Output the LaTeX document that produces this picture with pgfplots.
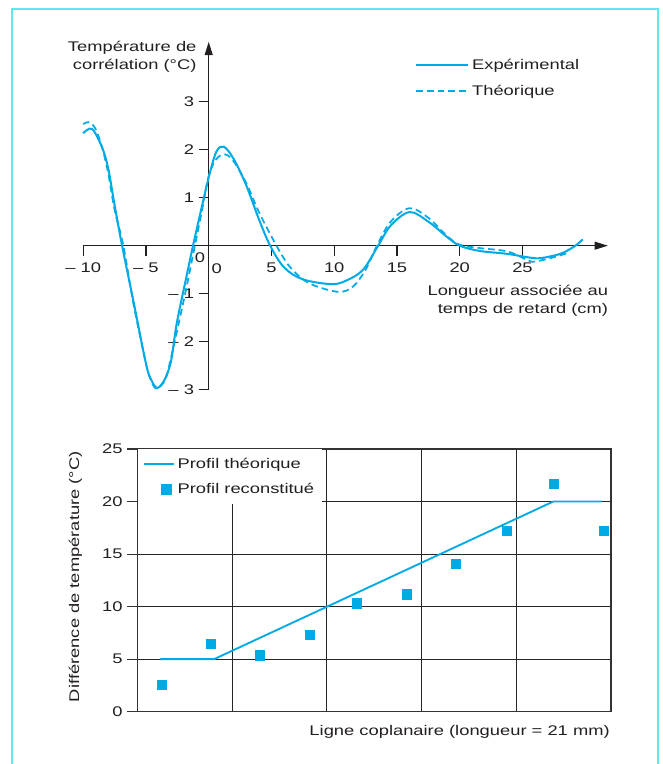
\documentclass[border=0pt]{standalone}
\usepackage{pgfplots}
\pgfplotsset{compat=1.18}
\usepackage{fontspec}
\setmainfont{Liberation Sans}[FakeStretch=1.31]
\usetikzlibrary{arrows.meta}
\definecolor{cb}{RGB}{0,170,228}
\definecolor{framec}{RGB}{95,232,240}
\definecolor{tx}{RGB}{35,31,32}
\begin{document}
\begin{tikzpicture}[font=\fontsize{10.5}{13}\selectfont]
\path[use as bounding box] (0pt,0pt) rectangle (497.25pt,573pt);
\draw[framec, line width=1.2pt] (9pt,0pt) -- (9pt,566.25pt) -- (493.5pt,566.25pt) -- (493.5pt,0pt);

\begin{axis}[
  at={(156.525pt,388.725pt)}, anchor=origin,
  scale only axis, width=393.5pt, height=261pt,
  xmin=-10, xmax=31.8, ymin=-3, ymax=4.24,
  axis lines=middle,
  axis line style={line width=0.9pt, tx, -{Triangle[length=10pt,width=6pt]}},
  tick align=outside, major tick length=7.5pt,
  tick style={line width=0.9pt, tx},
  xtick={-10,-5,5,10,15,20,25},
  xticklabels={– 10,– 5,5,10,15,20,25},
  xticklabel style={yshift=-2pt},
  ytick={-3,-2,-1,1,2,3},
  yticklabels={– 3,– 2,– 1,1,2,3},
  ticklabel style={font=\fontsize{10.5}{13}\selectfont, text=tx},
  clip=false,
  legend style={draw=none, fill=none, at={(axis cs:16.45,3.95)}, anchor=north west,
    inner sep=0pt, row sep=6.5pt, font=\fontsize{10.5}{13}\selectfont, text=tx},
  legend cell align=left,
  legend image code/.code={\draw[#1] (0pt,0pt) -- (39pt,0pt);},
]
\addplot[cb, line width=1.5pt, smooth, tension=0.55] coordinates {
(-10,2.34) (-9.3,2.43) (-8.5,2.05) (-8,1.6) (-7.5,0.85) (-6.9,0.0) (-6,-1.15)
(-5,-2.45) (-4.6,-2.78) (-4.1,-2.96) (-3.5,-2.78) (-3.0,-2.4) (-2.55,-1.62) (-1.8,-0.68) (-1.25,0.0)
(-0.6,0.75) (0,1.42) (0.6,1.95)
(1.2,2.06) (2,1.8) (3,1.25) (4,0.55) (4.9,0.0) (6,-0.45) (7.5,-0.70)
(9.8,-0.80) (11,-0.72) (12.3,-0.50) (13.5,0.0) (14.5,0.42) (16,0.70)
(17.5,0.50) (19,0.18) (20,0.0) (21.6,-0.11) (23.8,-0.17) (25.4,-0.24)
(26.4,-0.26) (28,-0.17) (29.1,-0.02) (29.8,0.13)};
\addlegendentry{Expérimental}
\addplot[cb, line width=1.3pt, smooth, tension=0.55, dash pattern=on 5pt off 3pt] coordinates {
(-10,2.53) (-9.5,2.57) (-9.0,2.42) (-8.5,2.05) (-8,1.5) (-7.5,0.75) (-6.8,0.0)
(-6,-1.2) (-5,-2.45) (-4.6,-2.8) (-4.2,-2.97) (-3.6,-2.85) (-3.2,-2.55) (-2,-1.15) (-1.1,0.0)
(-0.5,0.78) (0,1.45)
(0.6,1.8) (1.3,1.90) (2,1.75) (3,1.3) (4,0.7) (5.4,0.0) (6.5,-0.45)
(8,-0.78) (10.3,-0.96) (11.5,-0.85) (12.5,-0.5) (13.4,0.0) (14.5,0.5)
(16,0.78) (17.5,0.58) (19,0.2) (20,0.02) (21.6,-0.05) (23.8,-0.12)
(25.4,-0.3) (26,-0.33) (27.5,-0.24) (28.5,-0.16)};
\addlegendentry{Théorique}
\node[text=tx] at (axis cs:-0.69,-0.246) {0};
\node[text=tx] at (axis cs:0.64,-0.47) {0};
\end{axis}

\begin{axis}[
  at={(102.975pt,39.225pt)}, anchor=south west,
  scale only axis, width=355.3pt, height=197pt,
  xmin=0, xmax=5, ymin=0, ymax=25,
  xtick={1,2,3,4}, xticklabels={}, xtick style={draw=none},
  ytick={0,5,10,15,20,25}, ytick pos=left,
  tick align=outside, major tick length=7.5pt,
  ytick style={line width=0.8pt, black!80},
  grid=major, grid style={line width=0.7pt, black!85},
  axis line style={line width=0.9pt, black!80},
  ticklabel style={font=\fontsize{10.5}{13}\selectfont, text=tx},
  /pgf/number format/assume math mode=true,
  clip=false,
  legend style={draw=none, fill=white, at={(axis description cs:0,1)}, anchor=north west,
    inner xsep=4pt, inner ysep=4.5pt, row sep=5.5pt, font=\fontsize{10.5}{13}\selectfont, text=tx},
  legend cell align=left,
  legend image code/.code={\draw[mark repeat=2, mark phase=2, #1] plot coordinates {(0pt,0pt) (17pt,0pt) (22.5pt,0pt)};},
  legend image post style={line width=1.5pt},
]
\addplot[cb, line width=1.4pt, mark=none]
  coordinates {(0.243,5) (0.81,5) (4.39,20) (4.90,20)};
\addlegendentry{Profil théorique}
\addplot[only marks, mark=square*, mark size=3.4pt, cb, mark options={draw=none, fill=cb}]
  coordinates {(0.26,2.6) (0.775,6.5) (1.29,5.37) (1.82,7.28) (2.32,10.32)
  (2.84,11.18) (3.36,14.04) (3.90,17.18) (4.40,21.66) (4.92,17.18)};
\addlegendentry{Profil reconstitué}
\end{axis}

\node[text=tx, anchor=east, align=right, inner sep=0pt, font=\fontsize{10.5}{13.5}\selectfont]
  at (147.525pt,530.25pt) {Température de\\corrélation (°C)};
\node[text=tx, anchor=east, align=right, inner sep=0pt, font=\fontsize{10.5}{13.9}\selectfont]
  at (456.225pt,347.475pt) {Longueur associée au\\temps de retard (cm)};
\node[text=tx, rotate=90, inner sep=0pt] at (56.625pt,140.475pt) {Différence de température (°C)};
\node[text=tx, anchor=east, inner sep=0pt] at (457.5pt,24.225pt) {Ligne coplanaire (longueur = 21 mm)};
\end{tikzpicture}
\end{document}
